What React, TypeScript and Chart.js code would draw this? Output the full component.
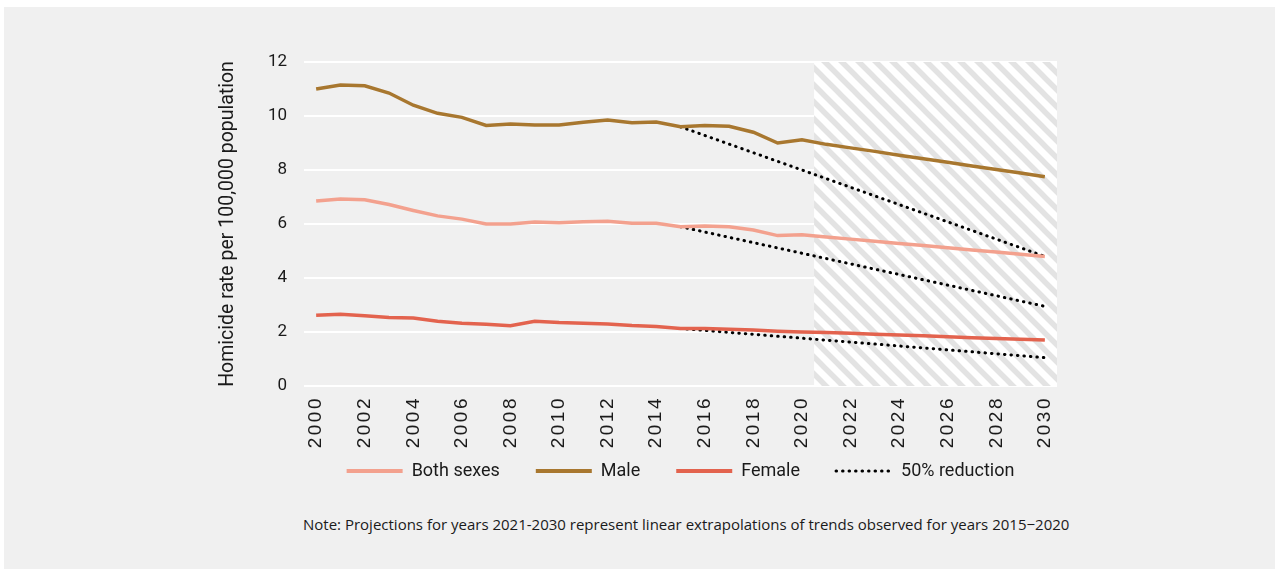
import React, { useEffect, useRef } from "react";
import { Chart, registerables } from "chart.js";

Chart.register(...registerables);

const years: string[] = [
  "2000","2001","2002","2003","2004","2005","2006","2007","2008","2009",
  "2010","2011","2012","2013","2014","2015","2016","2017","2018","2019",
  "2020","2021","2022","2023","2024","2025","2026","2027","2028","2029","2030",
];

const bothSexes: number[] = [
  6.85, 6.93, 6.9, 6.72, 6.5, 6.3, 6.18, 6.0, 6.0, 6.07,
  6.05, 6.08, 6.1, 6.03, 6.03, 5.9, 5.93, 5.9, 5.78, 5.57,
  5.6, 5.52, 5.44, 5.36, 5.28, 5.2, 5.12, 5.04, 4.96, 4.88, 4.8,
];

const male: number[] = [
  11.0, 11.15, 11.12, 10.85, 10.4, 10.1, 9.95, 9.65, 9.7, 9.67,
  9.67, 9.77, 9.85, 9.75, 9.78, 9.6, 9.65, 9.62, 9.4, 9.0,
  9.12, 8.95, 8.82, 8.69, 8.55, 8.42, 8.29, 8.15, 8.02, 7.89, 7.75,
];

const female: number[] = [
  2.62, 2.66, 2.6, 2.54, 2.52, 2.4, 2.32, 2.29, 2.23, 2.4,
  2.35, 2.32, 2.3, 2.24, 2.2, 2.13, 2.13, 2.1, 2.07, 2.03,
  2.0, 1.98, 1.95, 1.92, 1.89, 1.86, 1.82, 1.79, 1.76, 1.73, 1.7,
];

// 50% reduction targets: start (2015) and end (2030)
const reductionYears: string[] = ["2015", "2030"];
const maleReduction: number[] = [9.6, 4.8];
const bothReduction: number[] = [5.9, 2.95];
const femaleReduction: number[] = [2.13, 1.05];

const yTicks: number[] = [0, 2, 4, 6, 8, 10, 12];
const projectionStartIndex = 20; // hatch from halfway between 2020 and 2021

const colors = {
  both: "#f3a18e",
  male: "#a8772f",
  female: "#e3634e",
  reduction: "#000000",
};

const dotDash = [0.5, 6];

function toSeries(xs: string[], vs: number[]): (number | null)[] {
  return years.map((y) => {
    const i = xs.indexOf(y);
    return i >= 0 ? vs[i] : null;
  });
}

function makeHatch(): CanvasPattern | string {
  const s = 17;
  const c = document.createElement("canvas");
  c.width = s;
  c.height = s;
  const g = c.getContext("2d");
  if (!g) return "#ffffff";
  g.fillStyle = "#ffffff";
  g.fillRect(0, 0, s, s);
  g.strokeStyle = "#e3e3e3";
  g.lineWidth = 5.5;
  g.beginPath();
  for (let k = -1; k <= 1; k++) {
    g.moveTo(k * s - 2, -2);
    g.lineTo(k * s + s + 2, s + 2);
  }
  g.stroke();
  const p = g.createPattern(c, "repeat");
  return p || "#ffffff";
}

export default function App() {
  const ref = useRef<HTMLCanvasElement | null>(null);

  useEffect(() => {
    if (!ref.current) return;
    const hatch = makeHatch();

    const hatchPlugin = {
      id: "hatch",
      beforeDatasetsDraw(chart: any) {
        const { ctx, chartArea, scales } = chart;
        const xs = scales.x;
        const x0 =
          (xs.getPixelForValue(projectionStartIndex) +
            xs.getPixelForValue(projectionStartIndex + 1)) / 2;
        ctx.save();
        ctx.fillStyle = hatch;
        ctx.fillRect(x0, chartArea.top, chartArea.right - x0, chartArea.bottom - chartArea.top);
        ctx.restore();
      },
    };

    const spacingPlugin = {
      id: "xLetterSpacing",
      beforeDraw(chart: any) {
        const xs = chart.scales.x;
        if (xs && !xs.__patched) {
          const orig = xs.drawLabels;
          xs.drawLabels = function (area: any) {
            const c = this.ctx;
            const b = this.bottom;
            this.bottom = b + 60; // let rotated labels extend below the fitted box
            c.save();
            try {
              c.letterSpacing = "2.5px";
            } catch (e) {}
            orig.call(this, area);
            c.restore();
            this.bottom = b;
          };
          xs.__patched = true;
        }
      },
    };

    const chart = new Chart(ref.current, {
      type: "line",
      data: {
        labels: years,
        datasets: [
          {
            label: "Both sexes",
            data: bothSexes,
            borderColor: colors.both,
            backgroundColor: colors.both,
            borderWidth: 3.5,
            pointRadius: 0,
            tension: 0,
          },
          {
            label: "Male",
            data: male,
            borderColor: colors.male,
            backgroundColor: colors.male,
            borderWidth: 3.5,
            pointRadius: 0,
            tension: 0,
          },
          {
            label: "Female",
            data: female,
            borderColor: colors.female,
            backgroundColor: colors.female,
            borderWidth: 3.5,
            pointRadius: 0,
            tension: 0,
          },
          {
            label: "50% reduction",
            data: toSeries(reductionYears, maleReduction),
            borderColor: colors.reduction,
            backgroundColor: colors.reduction,
            borderWidth: 3,
            borderDash: dotDash,
            borderCapStyle: "round",
            pointRadius: 0,
            spanGaps: true,
          },
          {
            label: "50% reduction (both)",
            data: toSeries(reductionYears, bothReduction),
            borderColor: colors.reduction,
            borderWidth: 3,
            borderDash: dotDash,
            borderCapStyle: "round",
            pointRadius: 0,
            spanGaps: true,
          },
          {
            label: "50% reduction (female)",
            data: toSeries(reductionYears, femaleReduction),
            borderColor: colors.reduction,
            borderWidth: 3,
            borderDash: dotDash,
            borderCapStyle: "round",
            pointRadius: 0,
            spanGaps: true,
          },
        ] as any,
      },
      options: {
        animation: false,
        responsive: false,
        maintainAspectRatio: false,
        layout: { padding: { top: 54, left: 6, right: 23, bottom: 18 } },
        plugins: {
          tooltip: { enabled: false },
          legend: {
            position: "bottom",
            fullSize: false,
            labels: {
              usePointStyle: true,
              pointStyle: "line",
              pointStyleWidth: 56,
              padding: 36,
              color: "#1a1a1a",
              font: { family: "Roboto", size: 18 },
              generateLabels: (ch: any) =>
                ch.data.datasets.slice(0, 4).map((ds: any, i: number) => ({
                  text: ds.label,
                  datasetIndex: i,
                  fillStyle: ds.borderColor,
                  strokeStyle: ds.borderColor,
                  lineWidth: i === 3 ? 3 : 4,
                  lineDash: i === 3 ? dotDash : [],
                  lineCap: i === 3 ? "round" : "butt",
                  pointStyle: "line",
                  hidden: false,
                  fontColor: "#1a1a1a",
                })),
            },
          },
        },
        scales: {
          x: {
            type: "category",
            offset: true,
            grid: { display: false, drawTicks: false },
            border: { display: false },
            ticks: {
              autoSkip: false,
              minRotation: 90,
              maxRotation: 90,
              padding: 10,
              color: "#1a1a1a",
              font: { family: "Liberation Sans", size: 19 },
              callback: (v: any, i: number) => (i % 2 === 0 ? years[i] : ""),
            },
            afterFit: (s: any) => {
              s.height = 40;
            },
          },
          y: {
            min: 0,
            max: 12,
            afterBuildTicks: (s: any) => {
              s.ticks = yTicks.map((v) => ({ value: v }));
            },
            grid: { color: "#ffffff", lineWidth: 2, drawTicks: false },
            border: { display: false },
            ticks: {
              padding: 17,
              color: "#1a1a1a",
              font: { family: "Roboto", size: 17 },
            },
            title: {
              display: true,
              text: "Homicide rate per 100,000 population",
              color: "#1a1a1a",
              font: { family: "Roboto", size: 19.5 },
              padding: { top: 0, bottom: 0 },
            },
            afterFit: (s: any) => {
              s.width = 88;
            },
          },
        },
      } as any,
      plugins: [hatchPlugin, spacingPlugin],
    });
    return () => chart.destroy();
  }, []);

  return (
    <div style={{ position: "absolute", left: 0, top: 0, width: 1277, height: 569, background: "#ffffff" }}>
      <div
        style={{
          position: "absolute",
          left: 4,
          top: 7,
          width: 1271,
          height: 562,
          background: "#f0f0f0",
        }}
      />
      <canvas
        ref={ref}
        width={870}
        height={500}
        style={{ position: "absolute", left: 210, top: 8, width: 870, height: 500 }}
      />
      <div
        style={{
          position: "absolute",
          left: 303,
          top: 514,
          whiteSpace: "nowrap",
          fontFamily: "'Liberation Sans Narrow', 'Open Sans', sans-serif",
          fontSize: 15,
          color: "#1a1a1a",
        }}
      >
        Note: Projections for years 2021-2030 represent linear extrapolations of trends observed for years 2015−2020
      </div>
    </div>
  );
}
